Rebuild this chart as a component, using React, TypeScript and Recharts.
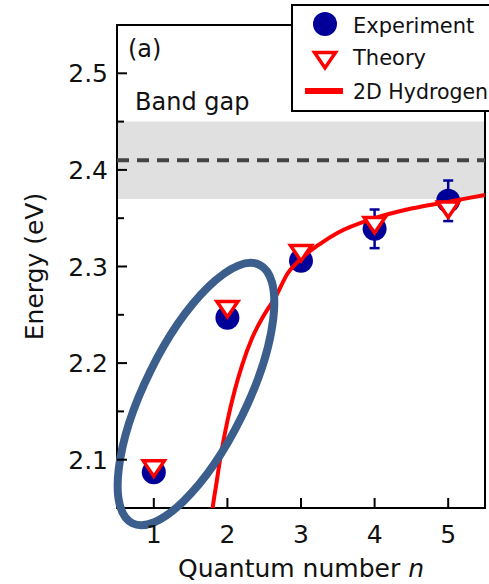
import React from 'react';
import {
  ComposedChart,
  Scatter,
  Line,
  XAxis,
  YAxis,
  ReferenceArea,
  ReferenceLine,
  ReferenceDot,
  ErrorBar,
  Legend,
  Label,
} from 'recharts';

const FONT = '"DejaVu Sans", "Liberation Sans", Arial, sans-serif';

// ---- data ----
const quantumNumbers = [1, 2, 3, 4, 5];
const experimentEnergy = [2.087, 2.247, 2.306, 2.339, 2.368];
const experimentError = [0, 0, 0, 0.02, 0.021];
const theoryEnergy = [2.09, 2.255, 2.313, 2.342, 2.358];

const hydrogenN = [1.76, 1.8, 1.85, 1.9, 2.0, 2.1, 2.2, 2.33, 2.5, 2.65, 2.82, 3.0, 3.25, 3.5, 4.0, 4.5, 5.0, 5.5];
const hydrogenEnergy = [2.02, 2.05, 2.075, 2.1, 2.14, 2.172, 2.198, 2.225, 2.25, 2.268, 2.293, 2.308, 2.323, 2.335, 2.35, 2.36, 2.367, 2.374];

const xTicks = [1, 2, 3, 4, 5];
const yTicks = [2.1, 2.15, 2.2, 2.25, 2.3, 2.35, 2.4, 2.45, 2.5];
const yMajorTicks = [2.1, 2.2, 2.3, 2.4, 2.5];
const xDomain = [0.5, 5.5];
const yDomain = [2.05, 2.55];
const bandGapCenter = 2.41;
const bandGapLow = 2.37;
const bandGapHigh = 2.45;
const ellipseCenter = { n: 1.573, e: 2.168 };

const experimentData = quantumNumbers.map((n, i) => ({ n, e: experimentEnergy[i] }));
const errorData = quantumNumbers
  .map((n, i) => ({ n, e: experimentEnergy[i], err: experimentError[i] }))
  .filter((d) => d.err > 0);
const theoryData = quantumNumbers.map((n, i) => ({ n, e: theoryEnergy[i] }));
const hydrogenData = hydrogenN.map((n, i) => ({ n, e: hydrogenEnergy[i] }));

const NAVY = '#000099';
const RED = '#ff0000';

const trianglePath = (cx: number, cy: number) =>
  `M${cx - 10.5},${cy - 8.5} L${cx + 10.5},${cy - 8.5} L${cx},${cy + 7} Z`;

const YTick = (props: any) => {
  const { x, y, payload } = props;
  const v = payload.value;
  const major = yMajorTicks.some((t) => Math.abs(t - v) < 1e-6);
  const ax = x + 9;
  return (
    <g>
      <line x1={ax} x2={ax + (major ? 10 : 7)} y1={y} y2={y} stroke="#000" strokeWidth={2} />
      {major && (
        <text x={ax - 9} y={y + 9} textAnchor="end" fontSize={25} fontFamily={FONT} fill="#111">
          {v.toFixed(1)}
        </text>
      )}
    </g>
  );
};

const XTick = (props: any) => {
  const { x, y, payload } = props;
  const ay = y - 8;
  return (
    <g>
      <line x1={x} x2={x} y1={ay} y2={ay - 10} stroke="#000" strokeWidth={2} />
      <text x={x} y={ay + 35} textAnchor="middle" fontSize={25} fontFamily={FONT} fill="#111">
        {payload.value}
      </text>
    </g>
  );
};

const LegendBox = () => (
  <svg width={220} height={112} style={{ display: 'block' }}>
    <rect x={2} y={2} width={240} height={106} fill="#fff" stroke="#000" strokeWidth={2} />
    <circle cx={35} cy={21} r={12} fill={NAVY} />
    <text x={63} y={30} fontSize={21} fontFamily={FONT} fill="#111">Experiment</text>
    <path d={trianglePath(35, 58)} fill="#fff" stroke={RED} strokeWidth={3.5} />
    <text x={63} y={62} fontSize={21} fontFamily={FONT} fill="#111">Theory</text>
    <line x1={15} x2={53} y1={88} y2={88} stroke={RED} strokeWidth={6} />
    <text x={63} y={96} fontSize={20.5} fontFamily={FONT} fill="#111">2D Hydrogen</text>
  </svg>
);

export default function App() {
  return (
    <div
      style={{
        position: 'absolute',
        left: 0,
        top: 0,
        width: 489,
        height: 584,
        overflow: 'hidden',
        background: '#fff',
      }}
    >
      <ComposedChart
        width={489}
        height={584}
        margin={{ top: 25, right: 4, bottom: 36, left: 57 }}
      >
        <XAxis
          dataKey="n"
          type="number"
          domain={xDomain}
          ticks={xTicks}
          allowDataOverflow
          axisLine={false}
          tickLine={false}
          tickSize={0}
          tickMargin={8}
          interval={0}
          height={40}
          tick={<XTick />}
        >
          <Label
            content={(p: any) => {
              const vb = p.viewBox || { x: 117, y: 508, width: 368 };
              return (
                <text
                  x={vb.x + vb.width / 2}
                  y={vb.y + 69}
                  textAnchor="middle"
                  fontSize={25}
                  fontFamily={FONT}
                  fill="#111"
                >
                  Quantum number <tspan fontStyle="italic">n</tspan>
                </text>
              );
            }}
          />
        </XAxis>
        <YAxis
          dataKey="e"
          type="number"
          domain={yDomain}
          ticks={yTicks}
          allowDataOverflow
          axisLine={false}
          tickLine={false}
          tickSize={0}
          tickMargin={9}
          interval={0}
          width={60}
          tick={<YTick />}
        >
          <Label
            content={(p: any) => {
              const vb = p.viewBox || { x: 57, y: 25, height: 483 };
              const cx = vb.x - 14;
              const cy = vb.y + vb.height / 2;
              return (
                <text
                  x={cx}
                  y={cy}
                  transform={`rotate(-90 ${cx} ${cy})`}
                  textAnchor="middle"
                  fontSize={25}
                  fontFamily={FONT}
                  fill="#111"
                >
                  Energy (eV)
                </text>
              );
            }}
          />
        </YAxis>

        <ReferenceArea
          x1={xDomain[0]}
          x2={xDomain[1]}
          y1={bandGapLow}
          y2={bandGapHigh}
          fill="#e0e0e0"
          fillOpacity={1}
          stroke="none"
          ifOverflow="visible"
        >
          <Label
            content={(p: any) => {
              const vb = p.viewBox || { x: 117, y: 122 };
              return (
                <text x={vb.x + 18} y={vb.y - 12} fontSize={24} fontFamily={FONT} fill="#111">
                  Band gap
                </text>
              );
            }}
          />
        </ReferenceArea>
        <ReferenceLine
          y={bandGapCenter}
          stroke="#444"
          strokeWidth={4}
          strokeDasharray="12 8"
          ifOverflow="visible"
        />
        <ReferenceArea
          x1={xDomain[0]}
          x2={xDomain[1]}
          y1={yDomain[0]}
          y2={yDomain[1]}
          fill="none"
          stroke="#000"
          strokeWidth={2}
          ifOverflow="visible"
        >
          <Label
            content={(p: any) => {
              const vb = p.viewBox || { x: 117, y: 25 };
              return (
                <text x={vb.x + 11} y={vb.y + 32} fontSize={24} fontFamily={FONT} fill="#111">
                  (a)
                </text>
              );
            }}
          />
        </ReferenceArea>

        <Scatter
          data={errorData}
          dataKey="e"
          isAnimationActive={false}
          shape={() => <g />}
          zIndex={340}
        >
          <ErrorBar dataKey="err" direction="y" width={5} stroke={NAVY} strokeWidth={2.5} />
        </Scatter>
        <Scatter
          data={experimentData}
          dataKey="e"
          isAnimationActive={false}
          zIndex={350}
          shape={(p: any) => <circle cx={p.cx} cy={p.cy} r={12} fill={NAVY} />}
        />
        <Line
          data={hydrogenData}
          dataKey="e"
          type="monotone"
          stroke={RED}
          strokeWidth={4}
          dot={false}
          activeDot={false}
          isAnimationActive={false}
          zIndex={400}
        />
        <Scatter
          data={theoryData}
          dataKey="e"
          isAnimationActive={false}
          zIndex={600}
          shape={(p: any) => (
            <path d={trianglePath(p.cx, p.cy)} fill="#fff" stroke={RED} strokeWidth={3.5} />
          )}
        />
        <ReferenceDot
          x={ellipseCenter.n}
          y={ellipseCenter.e}
          r={1}
          ifOverflow="visible"
          zIndex={700}
          shape={(p: any) => (
            <ellipse
              cx={p.cx}
              cy={p.cy}
              rx={144}
              ry={51}
              transform={`rotate(-63.8 ${p.cx} ${p.cy})`}
              fill="none"
              stroke="#3b5e8c"
              strokeWidth={8}
            />
          )}
        />
        <Legend
          layout="vertical"
          align="center"
          verticalAlign="middle"
          wrapperStyle={{ position: 'absolute', left: 290, top: 3, width: 220, height: 112 }}
          content={() => <LegendBox />}
        />
      </ComposedChart>
    </div>
  );
}
